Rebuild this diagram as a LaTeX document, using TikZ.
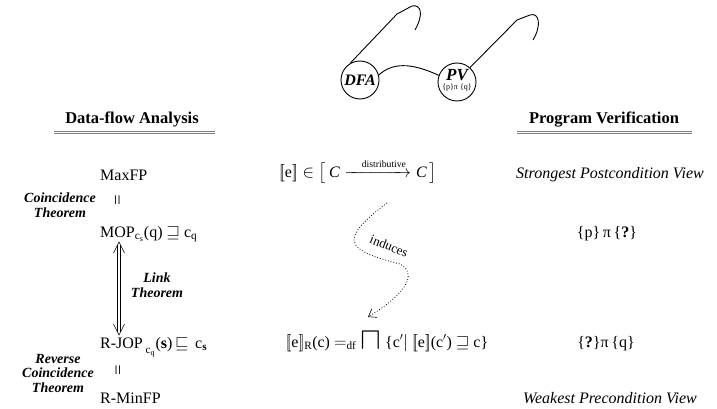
\documentclass[tikz,border=0pt]{standalone}
\usepackage{amsmath}
\usepackage{graphicx}
\usepackage{fontspec}
\setmainfont{Liberation Serif}
\usetikzlibrary{arrows.meta}

\newcommand{\sembr}[1]{[\![\mbox{#1}]\!]}
\newcommand{\eqbars}{\scalebox{1.1}[0.6]{||}}

\tikzset{
  glass/.style={draw, circle, line width=0.9pt, minimum size=38pt, inner sep=0pt},
  frame/.style={line width=0.9pt},
  heading/.style={font=\fontsize{16.5}{18}\selectfont\bfseries, anchor=base},
  underline/.style={gray, line width=0.9pt},
  theorem/.style={font=\fontsize{14}{14.5}\selectfont\bfseries\itshape, align=center},
  term/.style={font=\fontsize{16}{18}\selectfont, anchor=base west},
  formula/.style={font=\fontsize{16}{18}\selectfont, anchor=base},
  view/.style={font=\fontsize{16}{18}\selectfont\itshape, anchor=base},
  linkshaft/.style={double, double distance=2.6pt, line width=0.6pt},
  linkhead/.style={line width=0.6pt},
}

\begin{document}
\begin{tikzpicture}[x=1pt, y=-1pt, every node/.append style={inner sep=0pt}]
\useasboundingbox (0,0) rectangle (717,409);
% the glasses
\node[glass, font=\fontsize{16}{18}\selectfont\bfseries\itshape] (dfa) at (360,80) {DFA};
\node[glass] (pv) at (457,82) {};
\node[align=center, font=\fontsize{8}{9}\selectfont] (pvtext) at (457,80)
  {{\fontsize{17}{17}\selectfont\bfseries\itshape PV}\\{\{p\}π \{q\}}};
\draw[frame] (dfa.15) .. controls (392,63) and (410,62) .. (pv.160);
\draw[frame] (dfa.120) -- (397,14) -- (412,6) .. controls (421,4) and (424,14) .. (415,30);
\draw[frame] (pv.48) -- (517,20) -- (530,15) .. controls (539,12) and (542,25) .. (533,40);

% headings
\node[heading] (dfaHead) at (132,124) {Data-flow Analysis};
\node[heading] (pvHead) at (604,124) {Program Verification};
\draw[underline] (54,131) -- (215,131);
\draw[underline] (54,133.6) -- (215,133.6);
\draw[underline] (517,131) -- (692,131);
\draw[underline] (517,133.6) -- (692,133.6);

% data-flow analysis side
\node[term] (maxfp) at (100,180) {MaxFP};
\node[font=\fontsize{16}{18}\selectfont] (eqA) at (117.5,200) {\eqbars};
\node[term] (mop) at (100,237) {MOP$_{\mathrm{c}_{\mathrm{s}}}$(q) $\sqsupseteq$ c$_{\mathrm{q}}$};
\node[term] (rjop) at (100,348)
  {R-JOP\,\raisebox{-3pt}{$_{\mathrm{c}_{\mathrm{q}}}$}(\textbf{s})\,$\sqsubseteq$\, c$_{\mathbf{s}}$};
\node[font=\fontsize{16}{18}\selectfont] (eqB) at (118,370) {\eqbars};
\node[term] (rminfp) at (100,403) {R-MinFP};
\node[theorem] (coinc) at (60,205) {Coincidence\\Theorem};
\node[theorem] (link) at (157,285) {Link\\Theorem};
\node[theorem] (rcoinc) at (58,373) {Reverse\\Coincidence\\Theorem};
\coordinate (linkTop) at (119,242);
\coordinate (linkBot) at (119,335);
\draw[linkshaft] ([yshift=-3pt]linkTop) -- ([yshift=3pt]linkBot);
\draw[linkhead] ([shift={(-5.5,11)}]linkTop) -- (linkTop) -- ([shift={(5.5,11)}]linkTop);
\draw[linkhead] ([shift={(-5.5,-11)}]linkBot) -- (linkBot) -- ([shift={(5.5,-11)}]linkBot);

% semantics in the middle
\node[formula] (sem) at (358,177)
  {$\sembr{e}\in\big[\,\textit{C}\xrightarrow{\hspace{14pt}\text{\fontsize{9.7}{10}\selectfont distributive}}\textit{C}\,\big]$};
\node[formula] (semR) at (387,347)
  {$\sembr{e}_{\mathrm{R}}$(c) $=_{\mathrm{df}}$ \raisebox{-2pt}{\scalebox{1.8}{$\sqcap$}} \{c$'|$ $\sembr{e}$(c$'$) $\sqsupseteq$ c\}};
\coordinate (indA) at (387,203);
\coordinate (indB) at (400,264);
\coordinate (indC) at (368,317);
\draw[dotted, line width=0.8pt, -{Straight Barb[length=7pt,width=10pt,line width=0.6pt]}]
  (indA) .. controls (338,240) and (345,250) .. (indB) .. controls (415,272) and (412,290) .. (indC);
\node[rotate=-22, font=\fontsize{13}{14}\selectfont] (induces) at (389,246) {induces};

% program verification side
\node[view] (spv) at (610,178) {Strongest Postcondition View};
\node[formula] (hoareP) at (607,237) {\{p\}\,π\,\{\textbf{?}\}};
\node[formula] (hoareQ) at (606,347) {\{\textbf{?}\}π\,\{q\}};
\node[view] (wpv) at (610,403) {Weakest Precondition View};
\end{tikzpicture}
\end{document}
